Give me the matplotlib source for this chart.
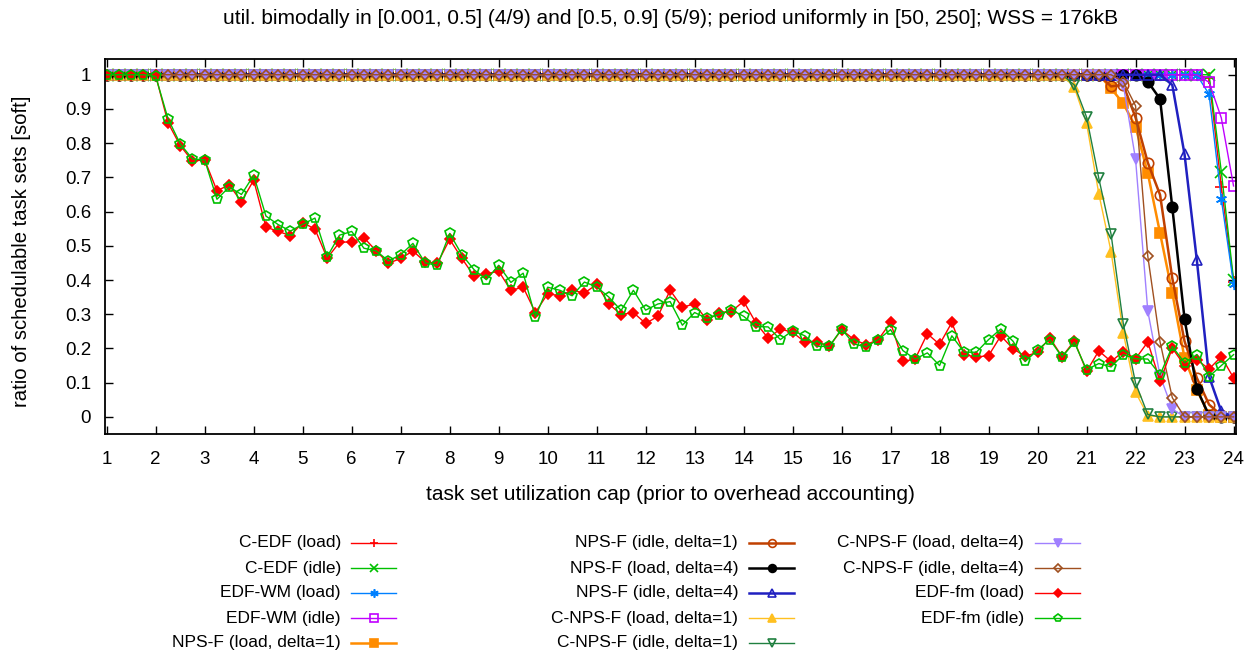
import numpy as np
import matplotlib
matplotlib.use("Agg")
import matplotlib.pyplot as plt
from matplotlib.lines import Line2D

plt.rcParams["font.family"] = ["Liberation Sans", "DejaVu Sans"]
FS_KEY = 12.5
FS_TICK = 13.5
FS_LABEL = 15

# x grid: task set utilization cap
caps = np.arange(1.0, 24.001, 0.25)
xticks = list(range(1, 25))
yticks = [0, 0.1, 0.2, 0.3, 0.4, 0.5, 0.6, 0.7, 0.8, 0.9, 1]
ytick_labels = ["0", "0.1", "0.2", "0.3", "0.4", "0.5", "0.6", "0.7", "0.8", "0.9", "1"]

# schedulability ratios (plateau at 1.0, then the tail from where the curve drops)
c_edf_load = [1.0] * 90 + [0.99, 0.673, 0.395]
c_edf_idle = [1.0] * 91 + [0.717, 0.401]
edf_wm_load = [1.0] * 90 + [0.943, 0.637, 0.389]
edf_wm_idle = [1.0] * 90 + [0.978, 0.874, 0.675]
nps_f_load_d1 = [1.0] * 82 + [0.96, 0.916, 0.848, 0.712, 0.537, 0.362,
                              0.172, 0.080, 0.005, 0.0, 0.0]
nps_f_idle_d1 = [1.0] * 82 + [0.966, 0.97, 0.875, 0.743, 0.649, 0.405,
                              0.221, 0.114, 0.036, 0.005, 0.0]
nps_f_load_d4 = [1.0] * 85 + [0.98, 0.929, 0.612, 0.286, 0.082, 0.004, 0.0, 0.0]
nps_f_idle_d4 = [1.0] * 87 + [0.970, 0.767, 0.459, 0.118, 0.016, 0.0]
c_nps_f_load_d1 = [1.0] * 79 + [0.963, 0.858, 0.652, 0.483, 0.245, 0.072, 0.004,
                                0.0, 0.0, 0.0, 0.0, 0.0, 0.0, 0.0]
c_nps_f_idle_d1 = [1.0] * 79 + [0.970, 0.876, 0.697, 0.534, 0.272, 0.099, 0.007,
                                0.0, 0.0, 0.0, 0.0, 0.0, 0.0, 0.0]
c_nps_f_load_d4 = [1.0] * 83 + [0.97, 0.753, 0.309, 0.12, 0.023,
                                0.0, 0.0, 0.0, 0.0, 0.0]
c_nps_f_idle_d4 = [1.0] * 83 + [0.98, 0.909, 0.469, 0.219, 0.056,
                                0.0, 0.0, 0.0, 0.0, 0.0]
edf_fm_load = [
    1.0, 1.0, 1.0, 1.0,
    0.998, 0.860, 0.793, 0.748,
    0.751, 0.661, 0.678, 0.629,
    0.692, 0.555, 0.542, 0.530,
    0.568, 0.549, 0.464, 0.510,
    0.512, 0.524, 0.485, 0.449,
    0.463, 0.485, 0.453, 0.449,
    0.519, 0.463, 0.411, 0.418,
    0.426, 0.370, 0.379, 0.305,
    0.360, 0.354, 0.370, 0.362,
    0.387, 0.330, 0.299, 0.305,
    0.273, 0.294, 0.370, 0.320,
    0.331, 0.282, 0.305, 0.308,
    0.338, 0.275, 0.230, 0.257,
    0.247, 0.219, 0.219, 0.206,
    0.255, 0.226, 0.211, 0.226,
    0.276, 0.162, 0.169, 0.243,
    0.212, 0.276, 0.182, 0.175,
    0.179, 0.237, 0.199, 0.177,
    0.189, 0.231, 0.176, 0.222,
    0.133, 0.193, 0.162, 0.191,
    0.170, 0.219, 0.104, 0.201,
    0.150, 0.167, 0.140, 0.176,
    0.114,
]
edf_fm_idle = [
    1.0, 1.0, 1.0, 1.0,
    0.995, 0.872, 0.798, 0.754,
    0.751, 0.636, 0.672, 0.650,
    0.706, 0.587, 0.562, 0.543,
    0.563, 0.581, 0.468, 0.531,
    0.542, 0.493, 0.485, 0.456,
    0.474, 0.507, 0.450, 0.443,
    0.536, 0.474, 0.430, 0.401,
    0.443, 0.393, 0.420, 0.292,
    0.379, 0.370, 0.354, 0.394,
    0.380, 0.350, 0.311, 0.370,
    0.312, 0.330, 0.337, 0.268,
    0.305, 0.288, 0.299, 0.313,
    0.294, 0.264, 0.263, 0.226,
    0.252, 0.237, 0.206, 0.206,
    0.257, 0.213, 0.205, 0.226,
    0.255, 0.194, 0.169, 0.187,
    0.150, 0.237, 0.189, 0.189,
    0.226, 0.257, 0.221, 0.162,
    0.196, 0.226, 0.175, 0.218,
    0.138, 0.156, 0.146, 0.182,
    0.170, 0.169, 0.123, 0.206,
    0.158, 0.182, 0.118, 0.150,
    0.182,
]

ASTERISK = (6, 2, 0)

# label, values, color, marker, filled, linewidth
series = [
    ("C-EDF (load)", c_edf_load, "#ff0000", "+", True, 1.0),
    ("C-EDF (idle)", c_edf_idle, "#00c000", "x", True, 1.0),
    ("EDF-WM (load)", edf_wm_load, "#0080ff", ASTERISK, True, 1.0),
    ("EDF-WM (idle)", edf_wm_idle, "#c000ff", "s", False, 1.0),
    ("NPS-F (load, delta=1)", nps_f_load_d1, "#ff8c00", "s", True, 1.8),
    ("NPS-F (idle, delta=1)", nps_f_idle_d1, "#c04000", "o", False, 1.8),
    ("NPS-F (load, delta=4)", nps_f_load_d4, "#000000", "o", True, 1.8),
    ("NPS-F (idle, delta=4)", nps_f_idle_d4, "#2020c0", "^", False, 1.8),
    ("C-NPS-F (load, delta=1)", c_nps_f_load_d1, "#ffc020", "^", True, 1.0),
    ("C-NPS-F (idle, delta=1)", c_nps_f_idle_d1, "#208040", "v", False, 1.0),
    ("C-NPS-F (load, delta=4)", c_nps_f_load_d4, "#a080ff", "v", True, 1.0),
    ("C-NPS-F (idle, delta=4)", c_nps_f_idle_d4, "#a05020", "D", False, 1.0),
    ("EDF-fm (load)", edf_fm_load, "#ff0000", "D", True, 1.0),
    ("EDF-fm (idle)", edf_fm_idle, "#00c000", "p", False, 1.0),
]

W, H = 1258, 655
fig = plt.figure(figsize=(W / 100, H / 100), dpi=100)
ax = fig.add_axes([105 / W, 1 - 434 / H, 1131 / W, 375 / H])


def fx(px):
    return px / W


def fy(py):
    return 1 - py / H


def style(color, marker, filled, lw):
    ms = 7.5
    if marker == "D":
        ms = 5.5
    if marker in ("+", "x", ASTERISK):
        ms = 8
    kw = dict(color=color, marker=marker, linewidth=lw, markersize=ms,
              markeredgewidth=1.2, markeredgecolor=color)
    kw["markerfacecolor"] = color if filled else "none"
    return kw


for label, vals, color, marker, filled, lw in series:
    ax.plot(caps, vals, **style(color, marker, filled, lw))

ax.set_xlim(0.965, 24.05)
ax.set_ylim(-0.05, 1.046)
ax.set_xticks(xticks)
ax.set_xticklabels([str(t) for t in xticks], fontsize=FS_TICK)
ax.set_yticks(yticks)
ax.set_yticklabels(ytick_labels, fontsize=FS_TICK)
ax.tick_params(direction="in", length=6, width=1, top=True, right=True,
               colors="black")
ax.tick_params(axis="x", pad=12)
ax.tick_params(axis="y", pad=10)
for sp in ax.spines.values():
    sp.set_linewidth(1.3)

fig.text(fx(670.5), fy(18), "util. bimodally in [0.001, 0.5] (4/9) and [0.5, 0.9] (5/9); "
         "period uniformly in [50, 250]; WSS = 176kB",
         fontsize=FS_LABEL, ha="center", va="center")
fig.text(fx(670.5), fy(494), "task set utilization cap (prior to overhead accounting)",
         fontsize=FS_LABEL, ha="center", va="center")
fig.text(fx(22), fy(251), "ratio of schedulable task sets [soft]",
         fontsize=14.6, ha="center", va="center", rotation=90)

# key: three columns, text right-aligned before a short line sample
col_text_right = [341, 738, 1024]
col_line = [(351, 396), (749, 794), (1035, 1080)]
row_y = [543, 568, 593, 618, 643]

for i, (label, vals, color, marker, filled, lw) in enumerate(series):
    col, row = divmod(i, 5)
    y = row_y[row]
    fig.text(fx(col_text_right[col]), fy(y), label, ha="right", va="center",
             fontsize=FS_KEY)
    x0, x1 = col_line[col]
    kw = style(color, marker, filled, lw)
    fig.add_artist(Line2D([fx(x0), fx(x1)], [fy(y), fy(y)],
                          transform=fig.transFigure, color=color, linewidth=lw))
    mk = dict(kw)
    mk["linewidth"] = 0
    mk["markersize"] = kw["markersize"] * 0.75
    fig.add_artist(Line2D([fx((x0 + x1) / 2)], [fy(y)],
                          transform=fig.transFigure, **mk))

fig.savefig("out.png", dpi=100)
